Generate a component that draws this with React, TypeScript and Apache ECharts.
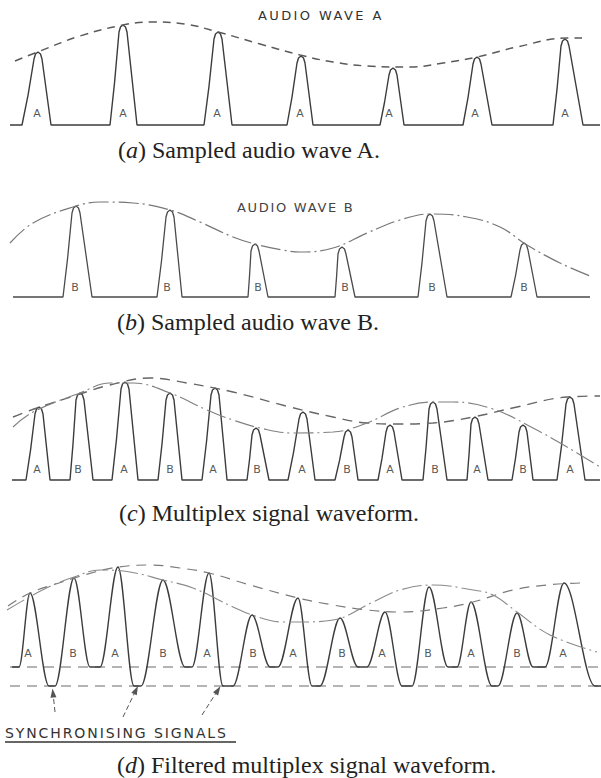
import React, { useEffect, useRef } from 'react';
import * as echarts from 'echarts';

// ---------- Panel (a): sampled audio wave A ----------
const aBaseRange = [10, 600];
const aPulseStart = [22, 110, 204, 287, 380, 463, 553];
const aPulsePeak = [38, 123, 218, 301, 393, 477, 565];
const aPulseEnd = [51, 137, 232, 313, 404, 492, 583];
const aPulseHeight = [73, 100, 93, 69, 57, 68, 86];
const aEnvX = [15, 40, 80, 123, 150, 185, 218, 260, 300, 333, 367, 410, 443, 477, 517, 567, 582];
const aEnvY = [64, 74, 89, 100, 103, 101, 93, 81, 70, 63, 59, 58, 62, 68, 78, 87, 87];
const aLabelX = [37, 123, 217, 300, 389, 475, 565];
const aLabelText = ['A', 'A', 'A', 'A', 'A', 'A', 'A'];
const aLabelLevel = 12;

// ---------- Panel (b): sampled audio wave B ----------
const bBaseRange = [13, 590];
const bPulseStart = [63, 157, 248, 335, 418, 511];
const bPulsePeak = [76, 170, 255, 342, 430, 524];
const bPulseEnd = [92, 182, 268, 355, 447, 537];
const bPulseHeight = [91, 87, 53, 50, 83, 54];
const bEnvX = [10, 33, 73, 100, 133, 170, 200, 233, 255, 283, 300, 333, 367, 400, 430, 467, 500, 527, 560, 590];
const bEnvY = [54, 74, 90, 95, 94, 87, 75, 60, 53, 47, 45, 49, 64, 77, 83, 80, 70, 52, 34, 21];
const bLabelX = [75, 167, 258, 345, 432, 524];
const bLabelText = ['B', 'B', 'B', 'B', 'B', 'B'];
const bLabelLevel = 10;

// ---------- Panel (c): multiplex signal ----------
const cBaseRange = [12, 600];
const cPulseStart = [26, 70, 112, 158, 202, 247, 288, 335, 378, 423, 467, 512, 557];
const cPulsePeak = [39, 80, 125, 170, 215, 256, 303, 348, 390, 433, 475, 523, 570];
const cPulseEnd = [50, 93, 138, 182, 227, 269, 315, 358, 402, 447, 488, 533, 585];
const cPulseHeight = [73, 87, 98, 87, 92, 52, 68, 50, 55, 78, 63, 55, 83];
const cEnvAX = [13, 37, 77, 110, 150, 187, 233, 290, 333, 367, 400, 433, 473, 517, 567, 600];
const cEnvAY = [63, 72, 85, 95, 102, 97, 88, 73, 63, 57, 56, 57, 63, 73, 83, 84];
const cEnvBX = [13, 33, 80, 110, 133, 170, 207, 233, 260, 293, 333, 367, 400, 433, 453, 493, 533, 567, 600];
const cEnvBY = [53, 68, 87, 97, 97, 87, 70, 60, 52, 47, 48, 57, 72, 78, 78, 71, 52, 33, 13];
const cLabelX = [37, 78, 124, 170, 213, 257, 302, 347, 390, 435, 477, 523, 570];
const cLabelText = ['A', 'B', 'A', 'B', 'A', 'B', 'A', 'B', 'A', 'B', 'A', 'B', 'A'];
const cLabelLevel = 11;

// ---------- Panel (d): filtered multiplex signal ----------
const dWaveX = [12, 19, 30, 49, 55, 74, 90, 100, 118, 134, 141, 163, 185, 192, 209, 223, 233, 252, 270, 278, 298, 312, 320, 340, 358, 367, 385, 402, 412, 429, 448, 457, 471, 492, 498, 517, 533, 545, 564, 595, 601];
const dWaveY = [0, 0, 74, -19, -19, 89, 0, 0, 100, -19, -19, 87, 0, 0, 94, -19, -19, 52, 0, 0, 69, -19, -19, 49, 0, 0, 55, -19, -19, 80, 0, 0, 65, -19, -19, 54, 0, 0, 84, -19, -19];
const dEnvAX = [8, 30, 62, 95, 118, 150, 180, 209, 250, 298, 333, 367, 400, 443, 473, 513, 547, 580];
const dEnvAY = [61, 74, 85, 95, 100, 102, 99, 94, 82, 69, 62, 57, 55, 59, 65, 77, 82, 84];
const dEnvBX = [7, 33, 53, 74, 100, 130, 163, 193, 233, 252, 283, 300, 333, 373, 400, 433, 473, 493, 517, 550, 597];
const dEnvBY = [57, 72, 82, 90, 97, 95, 87, 79, 60, 52, 45, 45, 47, 65, 77, 82, 77, 72, 55, 32, 15];
const dLabelX = [28, 73, 115, 163, 207, 253, 293, 342, 382, 428, 471, 517, 563];
const dLabelText = ['A', 'B', 'A', 'B', 'A', 'B', 'A', 'B', 'A', 'B', 'A', 'B', 'A'];
const dLabelLevel = 14;
const dLineRange = [10, 600];
const dPedestalLevel = 0;
const dSyncLevel = -19;
const dArrowFrom = [[55, -45], [123, -50], [202, -48]];
const dArrowTo = [[53, -26], [136, -23], [218, -23]];

// ---------- Texts ----------
const waveTitles = ['AUDIO WAVE A', 'AUDIO WAVE B'];
const captionLetters = ['a', 'b', 'c', 'd'];
const captionBodies = [
  'Sampled audio wave A.',
  'Sampled audio wave B.',
  'Multiplex signal waveform.',
  'Filtered multiplex signal waveform.',
];
const captions = captionLetters.map((l, i) => `(${l}) ${captionBodies[i]}`);
const syncText = 'SYNCHRONISING SIGNALS';

const SERIF = '"Liberation Serif", "DejaVu Serif", serif';
const SANS = '"DejaVu Sans", sans-serif';

const panels = [
  { baseline: 125, yMin: -20, yMax: 120 },
  { baseline: 297, yMin: -20, yMax: 120 },
  { baseline: 480, yMin: -20, yMax: 120 },
  { baseline: 667, yMin: -60, yMax: 120 },
];

function pulseTrain(range: number[], starts: number[], peaks: number[], ends: number[], heights: number[]) {
  const pts: number[][] = [[range[0], 0]];
  starts.forEach((s, i) => {
    const p = peaks[i];
    const e = ends[i];
    const h = heights[i];
    pts.push(
      [s, 0],
      [s + (p - 4 - s) * 0.5, (h - 7) * 0.45],
      [p - 4, h - 7],
      [p - 2.5, h - 2],
      [p, h],
      [p + 2.5, h - 2],
      [p + 4, h - 7],
      [e - (e - p - 4) * 0.5, (h - 7) * 0.5],
      [e, 0],
    );
  });
  pts.push([range[1], 0]);
  return pts;
}

const zip = (xs: number[], ys: number[]) => xs.map((x, i) => [x, ys[i]]);

function lineSeries(gi: number, data: number[][], color: string, width: number, type: any, extra: any = {}) {
  return {
    type: 'line',
    xAxisIndex: gi,
    yAxisIndex: gi,
    data,
    symbol: 'none',
    showSymbol: false,
    silent: true,
    clip: false,
    lineStyle: { color, width, type },
    ...extra,
  };
}

function labelSeries(gi: number, xs: number[], texts: string[], level: number) {
  return {
    type: 'scatter',
    xAxisIndex: gi,
    yAxisIndex: gi,
    symbolSize: 1,
    silent: true,
    itemStyle: { color: 'rgba(0,0,0,0)' },
    data: xs.map((x, i) => ({ name: texts[i], value: [x, level] })),
    label: {
      show: true,
      position: 'inside',
      formatter: '{b}',
      fontSize: 11,
      fontFamily: SANS,
      color: '#2a2a2a',
      textBorderWidth: 0,
      textBorderColor: 'transparent',
    },
  };
}

function textEl(text: string, x: number, y: number, size: number, family: string, align: string, color = '#222') {
  return {
    type: 'text',
    x,
    y,
    silent: true,
    style: {
      text,
      fontSize: size,
      fontFamily: family,
      fill: color,
      align,
      textAlign: align,
      verticalAlign: 'middle',
      textVerticalAlign: 'middle',
    },
  };
}

const DASH = [8, 6];
const DASHDOT = [20, 4, 2, 4];

export default function App() {
  const ref = useRef<HTMLDivElement>(null);
  useEffect(() => {
    if (!ref.current) return;
    const chart = echarts.init(ref.current, undefined, { renderer: 'svg' });
    const option: any = {
      animation: false,
      backgroundColor: '#ffffff',
      grid: panels.map((p) => ({ left: 0, right: 0, top: p.baseline - p.yMax, height: p.yMax - p.yMin })),
      xAxis: panels.map((_, i) => ({ type: 'value', gridIndex: i, min: 0, max: 601, show: false })),
      yAxis: panels.map((p, i) => ({ type: 'value', gridIndex: i, min: p.yMin, max: p.yMax, show: false })),
      series: [
        // (a)
        lineSeries(0, pulseTrain(aBaseRange, aPulseStart, aPulsePeak, aPulseEnd, aPulseHeight), '#3c3c3c', 1.4, 'solid'),
        lineSeries(0, zip(aEnvX, aEnvY), '#5a5a5a', 1.5, DASH, { smooth: 0.4 }),
        labelSeries(0, aLabelX, aLabelText, aLabelLevel),
        // (b)
        lineSeries(1, pulseTrain(bBaseRange, bPulseStart, bPulsePeak, bPulseEnd, bPulseHeight), '#4a4a4a', 1.3, 'solid'),
        lineSeries(1, zip(bEnvX, bEnvY), '#777777', 1.2, DASHDOT, { smooth: 0.4 }),
        labelSeries(1, bLabelX, bLabelText, bLabelLevel),
        // (c)
        lineSeries(2, pulseTrain(cBaseRange, cPulseStart, cPulsePeak, cPulseEnd, cPulseHeight), '#3c3c3c', 1.4, 'solid'),
        lineSeries(2, zip(cEnvAX, cEnvAY), '#666666', 1.4, [10, 7], { smooth: 0.4 }),
        lineSeries(2, zip(cEnvBX, cEnvBY), '#808080', 1.1, DASHDOT, { smooth: 0.4 }),
        labelSeries(2, cLabelX, cLabelText, cLabelLevel),
        // (d)
        lineSeries(3, [[dLineRange[0], dPedestalLevel], [dLineRange[1], dPedestalLevel]], '#6a6a6a', 1.1, [10, 7]),
        lineSeries(3, [[dLineRange[0], dSyncLevel], [dLineRange[1], dSyncLevel]], '#6a6a6a', 1.1, [10, 7], {
          markLine: {
            silent: true,
            symbol: ['none', 'triangle'],
            symbolSize: [6, 9],
            label: { show: false },
            lineStyle: { color: '#555555', width: 1, type: [5, 3] },
            data: dArrowFrom.map((f, i) => [{ coord: f }, { coord: dArrowTo[i] }]),
          },
        }),
        lineSeries(3, zip(dWaveX, dWaveY), '#3c3c3c', 1.4, 'solid', { smooth: 0.35, smoothMonotone: 'x' }),
        lineSeries(3, zip(dEnvAX, dEnvAY), '#7a7a7a', 1.2, [10, 7], { smooth: 0.4 }),
        lineSeries(3, zip(dEnvBX, dEnvBY), '#8a8a8a', 1.1, DASHDOT, { smooth: 0.4 }),
        labelSeries(3, dLabelX, dLabelText, dLabelLevel),
      ],
      graphic: [
        textEl(waveTitles[0], 258, 15, 13, SANS, 'left', '#333'),
        textEl(waveTitles[1], 237, 207, 13, SANS, 'left', '#444'),
        textEl(captions[0], 118, 150, 24, SERIF, 'left'),
        textEl(captions[1], 117, 322, 24, SERIF, 'left'),
        textEl(captions[2], 119, 513, 24, SERIF, 'left'),
        textEl(captions[3], 117, 765, 24, SERIF, 'left'),
        textEl(syncText, 5, 733, 14, SANS, 'left', '#333'),
        {
          type: 'line',
          silent: true,
          shape: { x1: 5, y1: 742, x2: 236, y2: 742 },
          style: { stroke: '#333', lineWidth: 1.3 },
        },
      ],
    };
    chart.setOption(option);
    // hand-lettered labels in the reference are widely letter-spaced; caption letters are italic
    const spacing: Record<string, string> = {
      [waveTitles[0]]: '2.4',
      [waveTitles[1]]: '1.7',
      [syncText]: '1.9',
    };
    const NS = 'http://www.w3.org/2000/svg';
    const polish = () => {
      ref.current?.querySelectorAll('text').forEach((t) => {
        const s = (t.textContent || '').trim();
        if (spacing[s]) t.setAttribute('letter-spacing', spacing[s]);
        const ci = captions.indexOf(s);
        if (ci >= 0 && !t.querySelector('tspan')) {
          while (t.firstChild) t.removeChild(t.firstChild);
          t.appendChild(document.createTextNode('('));
          const it = document.createElementNS(NS, 'tspan');
          it.setAttribute('font-style', 'italic');
          it.textContent = captionLetters[ci];
          t.appendChild(it);
          t.appendChild(document.createTextNode(') ' + captionBodies[ci]));
        }
      });
    };
    polish();
    chart.on('finished', polish);
    return () => chart.dispose();
  }, []);
  return (
    <div
      ref={ref}
      style={{ position: 'absolute', left: 0, top: 0, width: 601, height: 778, background: '#fff' }}
    />
  );
}
